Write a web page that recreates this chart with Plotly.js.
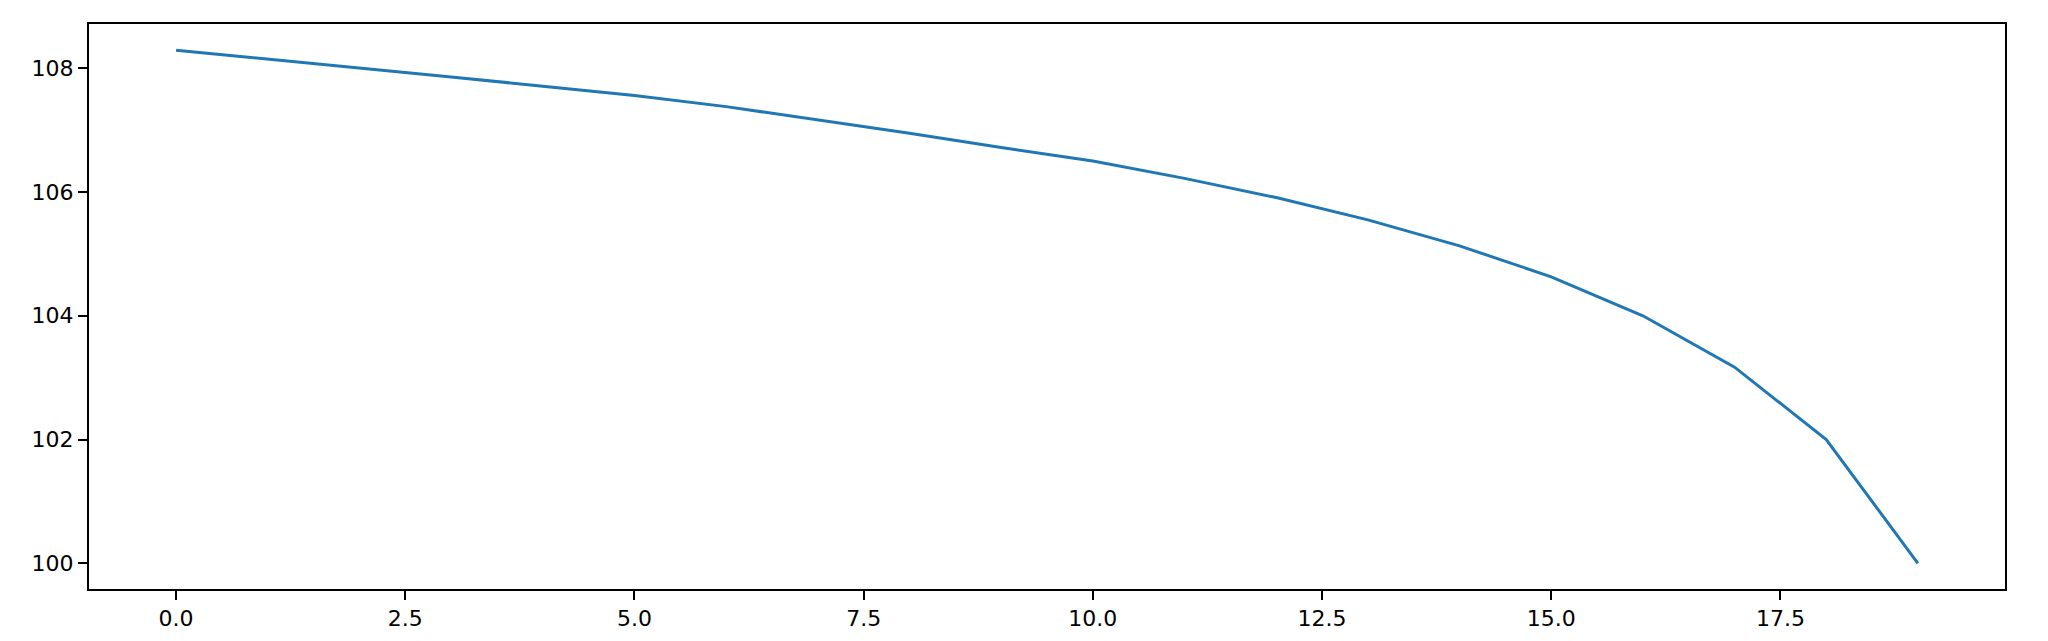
<!DOCTYPE html>
<html>
<head>
<meta charset="utf-8">
<script src="https://cdn.plot.ly/plotly-3.0.1.min.js"></script>
<style>
  html, body { margin: 0; padding: 0; background: #ffffff; }
  #chart { width: 2048px; height: 641px; }
</style>
</head>
<body>
<div id="chart"></div>
<script>
// Data
const xValues = [0, 1, 2, 3, 4, 5, 6, 7, 8, 9, 10, 11, 12, 13, 14, 15, 16, 17, 18, 19];
const yValues = [108.29, 108.15, 108.00, 107.86, 107.71, 107.56, 107.38, 107.17, 106.95, 106.72,
                 106.50, 106.22, 105.91, 105.55, 105.13, 104.63, 104.00, 103.17, 102.00, 100.00];
const xTickVals = [0, 2.5, 5, 7.5, 10, 12.5, 15, 17.5];
const xTickText = ["0.0", "2.5", "5.0", "7.5", "10.0", "12.5", "15.0", "17.5"];
const yTickVals = [100, 102, 104, 106, 108];
const yTickText = ["100", "102", "104", "106", "108"];

const trace = {
  x: xValues,
  y: yValues,
  type: 'scatter',
  mode: 'lines',
  line: { color: '#1f77b4', width: 3 },
  hoverinfo: 'skip'
};

const axisCommon = {
  showgrid: false,
  zeroline: false,
  showline: true,
  mirror: true,
  linecolor: '#000000',
  linewidth: 2,
  ticks: 'outside',
  ticklen: 9,
  tickwidth: 2,
  tickcolor: '#000000',
  tickfont: { family: 'DejaVu Sans, sans-serif', size: 22, color: '#000000' }
};

const layout = {
  width: 2048,
  height: 641,
  margin: { l: 89, r: 43, t: 24, b: 52, pad: 0 },
  paper_bgcolor: '#ffffff',
  plot_bgcolor: '#ffffff',
  showlegend: false,
  xaxis: Object.assign({}, axisCommon, {
    range: [-0.95, 19.95],
    tickmode: 'array',
    tickvals: xTickVals,
    ticktext: xTickText
  }),
  yaxis: Object.assign({}, axisCommon, {
    range: [99.585, 108.715],
    tickmode: 'array',
    tickvals: yTickVals,
    ticktext: yTickText
  })
};

Plotly.newPlot('chart', [trace], layout, { staticPlot: true, displayModeBar: false });
</script>
</body>
</html>
